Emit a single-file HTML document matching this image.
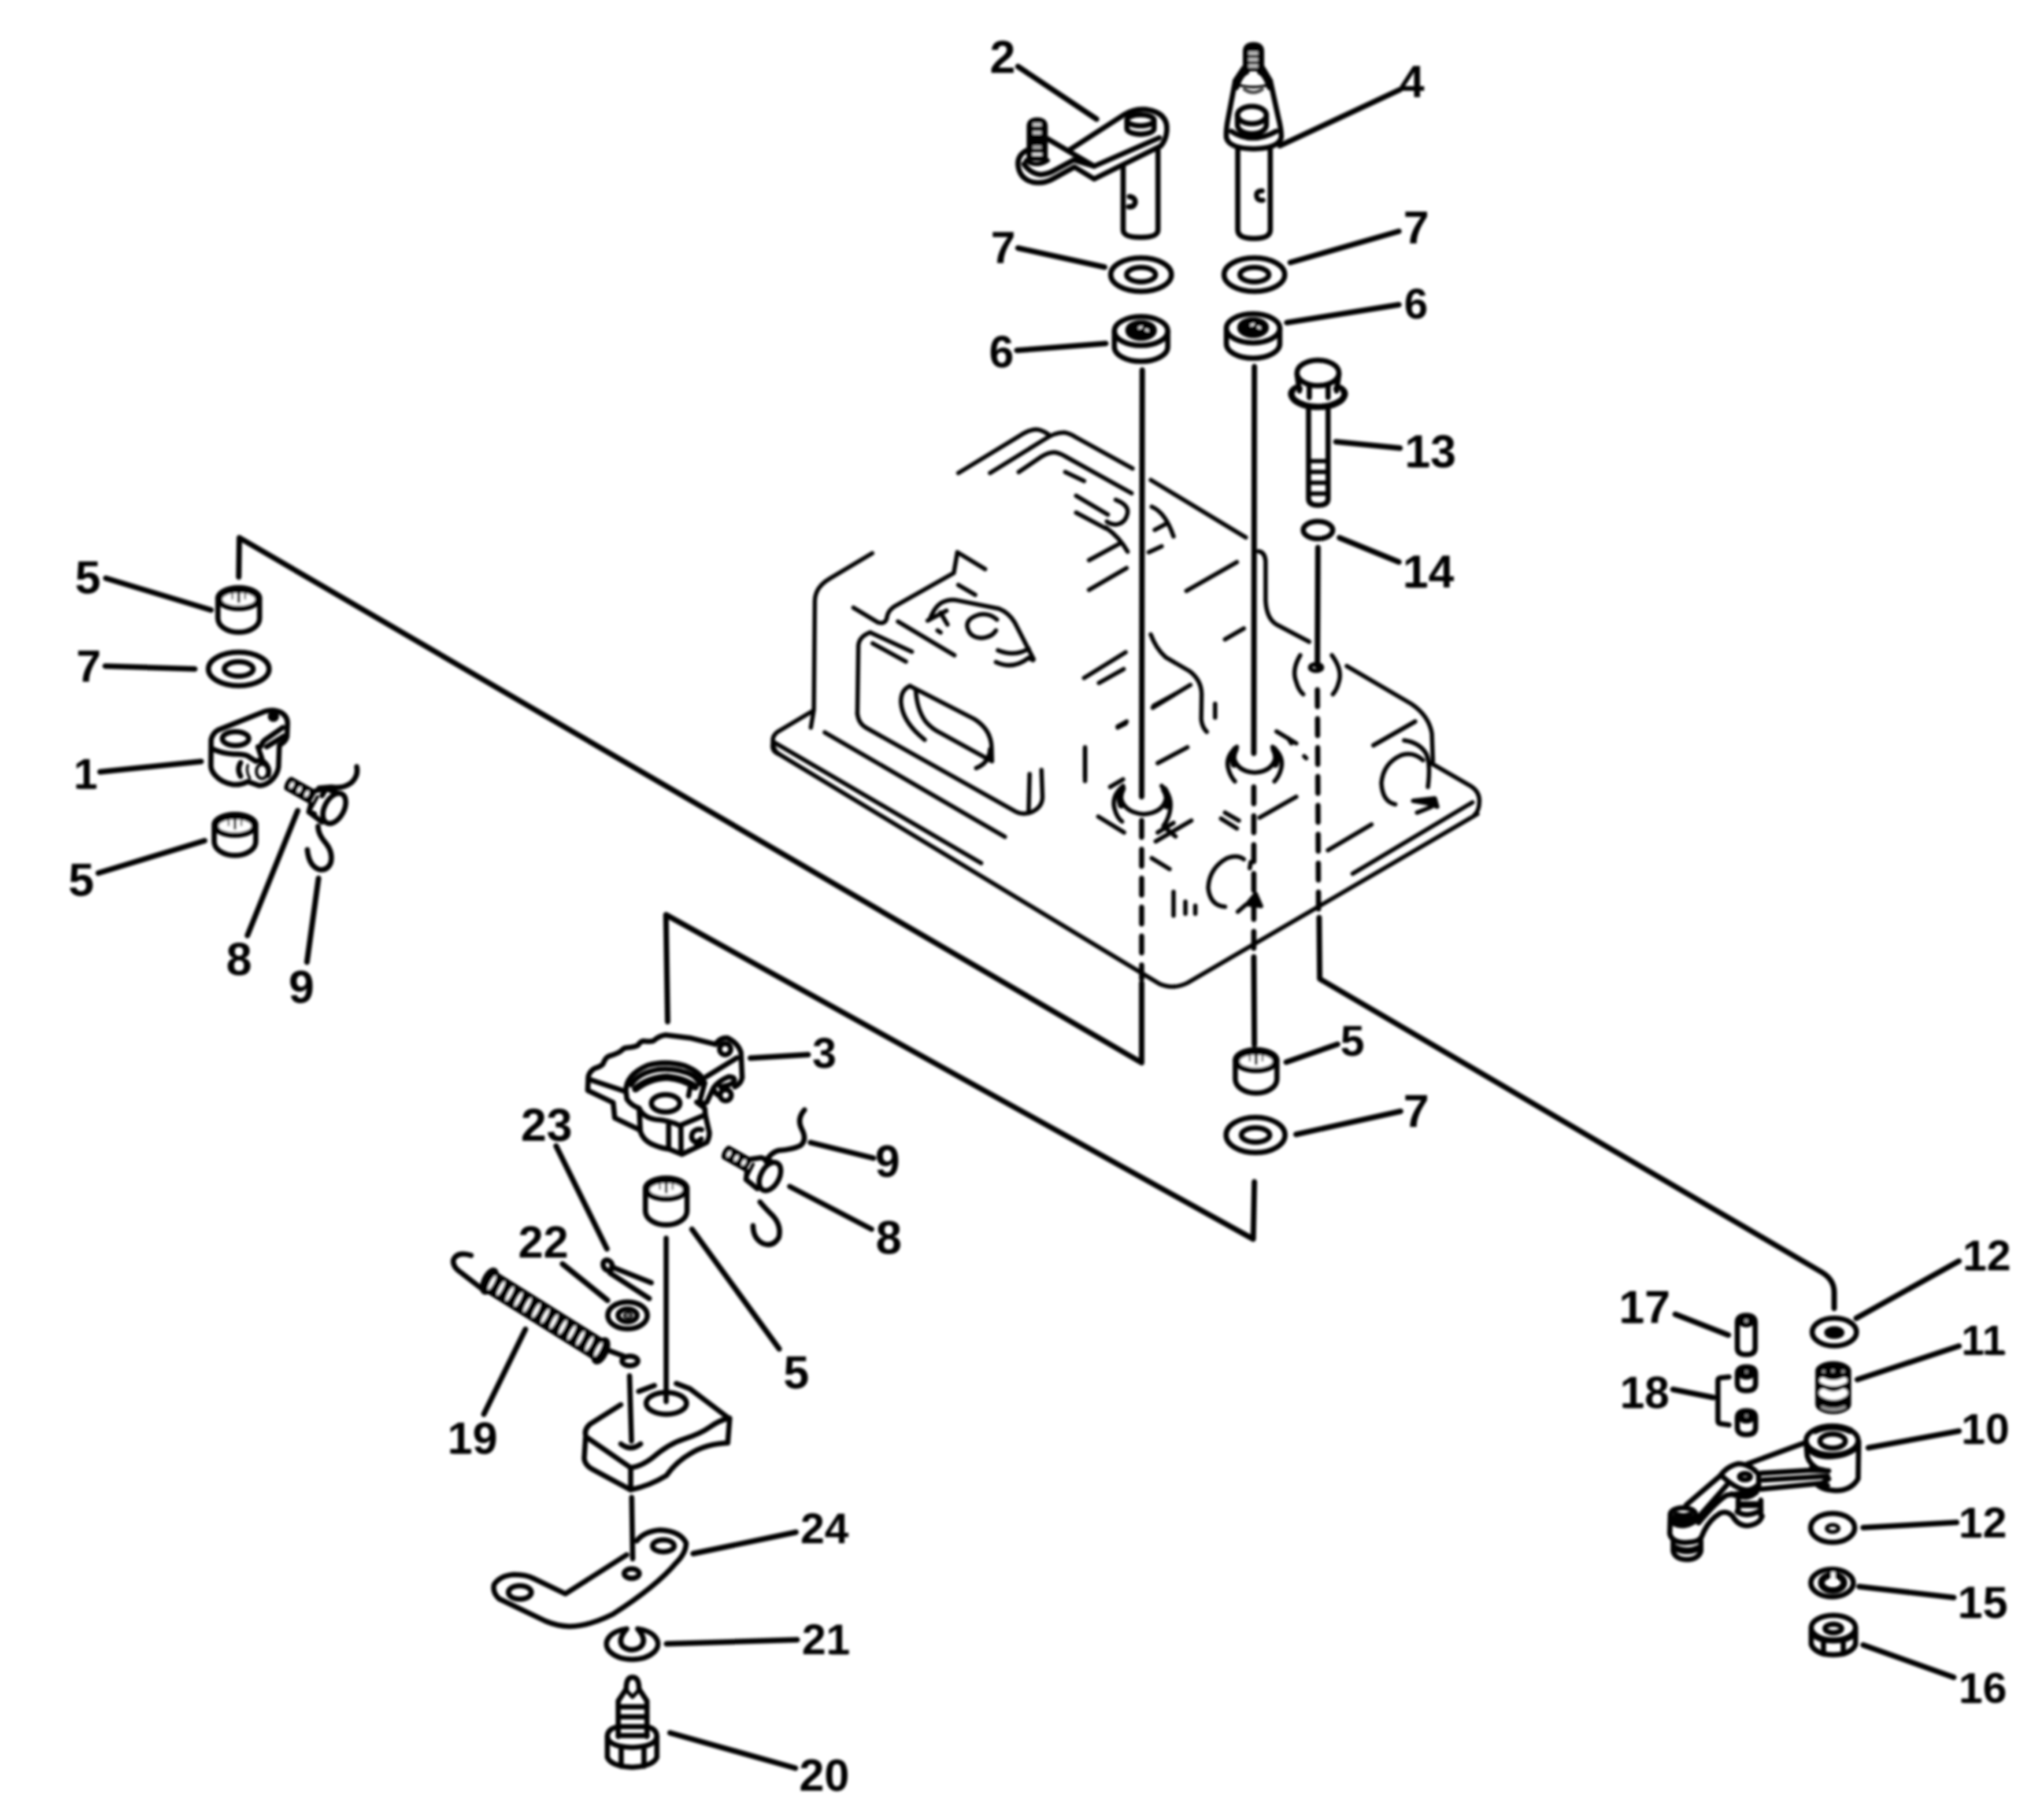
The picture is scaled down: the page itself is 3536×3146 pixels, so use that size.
<!DOCTYPE html>
<html><head><meta charset="utf-8"><title>diagram</title>
<style>
html,body{margin:0;padding:0;background:#fff}
body{width:3536px;height:3146px;overflow:hidden}
svg{display:block}
text{font-family:"Liberation Sans",sans-serif;font-weight:bold;fill:#000;stroke:none}
</style></head><body>
<svg width="3536" height="3146" viewBox="0 0 3536 3146">
<defs><filter id="bl" x="-2%" y="-2%" width="104%" height="104%"><feGaussianBlur stdDeviation="1.9"/></filter></defs>
<rect width="3536" height="3146" fill="#fff"/>
<g filter="url(#bl)" fill="none" stroke="#000" stroke-width="9" stroke-linecap="round" stroke-linejoin="round">
<path d="M413 998L414 930L1975 1838L1975 1700" stroke-width="9.5"/>
<path d="M1155 1767L1152 1582L2168 2143L2170 2044" stroke-width="9.5"/>
<path d="M2280 947L2279 1152" stroke-width="9.5"/>
<path d="M2282 1587L2283 1693L3151 2200Q3173 2213 3173 2235L3173 2263" stroke-width="9.5"/>
<path d="M2279 1193L2281 1577" stroke-width="9" stroke-dasharray="29 21"/>
<path d="M1976 640L1975 1378" stroke-width="9.5"/>
<path d="M1975 1419L1975 1693" stroke-width="9" stroke-dasharray="29 21"/>
<path d="M2170 634L2169 1303" stroke-width="9.5"/>
<path d="M2169 1361L2169 1640" stroke-width="9" stroke-dasharray="29 21"/>
<path d="M2169 1655L2170 1807" stroke-width="9.5"/>
<text x="1734.5" y="126.0" font-size="80" text-anchor="middle">2</text>
<text x="2442.5" y="168.0" font-size="78" text-anchor="middle">4</text>
<text x="1735.5" y="455.0" font-size="77" text-anchor="middle">7</text>
<text x="2450.0" y="421.0" font-size="80" text-anchor="middle">7</text>
<text x="1732.5" y="635.0" font-size="77" text-anchor="middle">6</text>
<text x="2449.5" y="551.0" font-size="74" text-anchor="middle">6</text>
<text x="2474.5" y="808.0" font-size="80" text-anchor="middle">13</text>
<path d="M2441.6 805.0H2468.3" stroke-width="7" fill="none"/>
<text x="2471.0" y="1016.0" font-size="80" text-anchor="middle">14</text>
<path d="M2438.1 1013.0H2464.8" stroke-width="7" fill="none"/>
<text x="152.0" y="1026.0" font-size="80" text-anchor="middle">5</text>
<text x="153.5" y="1179.0" font-size="77" text-anchor="middle">7</text>
<text x="148.0" y="1364.0" font-size="75" text-anchor="middle">1</text>
<path d="M138.0 1361.0H163.0" stroke-width="7" fill="none"/>
<text x="140.5" y="1549.0" font-size="80" text-anchor="middle">5</text>
<text x="413.5" y="1686.0" font-size="80" text-anchor="middle">8</text>
<text x="521.5" y="1734.0" font-size="80" text-anchor="middle">9</text>
<text x="1426.0" y="1847.0" font-size="75" text-anchor="middle">3</text>
<text x="1535.5" y="2035.0" font-size="77" text-anchor="middle">9</text>
<text x="1537.5" y="2168.0" font-size="81" text-anchor="middle">8</text>
<text x="2339.5" y="1826.0" font-size="75" text-anchor="middle">5</text>
<text x="2450.0" y="1949.0" font-size="80" text-anchor="middle">7</text>
<text x="945.5" y="1973.0" font-size="80" text-anchor="middle">23</text>
<text x="940.0" y="2175.0" font-size="78" text-anchor="middle">22</text>
<text x="817.5" y="2514.0" font-size="78" text-anchor="middle">19</text>
<path d="M785.4 2511.0H811.4" stroke-width="7" fill="none"/>
<text x="1377.5" y="2401.0" font-size="80" text-anchor="middle">5</text>
<text x="1426.5" y="2669.0" font-size="75" text-anchor="middle">24</text>
<text x="1429.0" y="2861.0" font-size="75" text-anchor="middle">21</text>
<path d="M1439.8 2858.0H1464.9" stroke-width="7" fill="none"/>
<text x="1426.0" y="3097.0" font-size="78" text-anchor="middle">20</text>
<text x="2845.0" y="2288.0" font-size="80" text-anchor="middle">17</text>
<path d="M2812.1 2285.0H2838.8" stroke-width="7" fill="none"/>
<text x="2845.0" y="2435.0" font-size="77" text-anchor="middle">18</text>
<path d="M2813.3 2432.0H2839.0" stroke-width="7" fill="none"/>
<text x="3437.0" y="2197.0" font-size="75" text-anchor="middle">12</text>
<path d="M3406.1 2194.0H3431.2" stroke-width="7" fill="none"/>
<text x="3431.0" y="2343.0" font-size="72" text-anchor="middle">11</text>
<path d="M3401.4 2340.0H3425.4" stroke-width="7" fill="none"/>
<path d="M3441.4 2340.0H3465.4" stroke-width="7" fill="none"/>
<text x="3434.5" y="2497.0" font-size="75" text-anchor="middle">10</text>
<path d="M3403.6 2494.0H3428.7" stroke-width="7" fill="none"/>
<text x="3430.0" y="2659.0" font-size="75" text-anchor="middle">12</text>
<path d="M3399.1 2656.0H3424.2" stroke-width="7" fill="none"/>
<text x="3430.0" y="2798.0" font-size="78" text-anchor="middle">15</text>
<path d="M3397.9 2795.0H3423.9" stroke-width="7" fill="none"/>
<text x="3430.0" y="2945.0" font-size="75" text-anchor="middle">16</text>
<path d="M3399.1 2942.0H3424.2" stroke-width="7" fill="none"/>
<path d="M1761 115L1897 206" stroke-width="9.5"/>
<path d="M2422 155L2214 252" stroke-width="9.5"/>
<path d="M1761 429L1911 462" stroke-width="9.5"/>
<path d="M2232 454L2420 400" stroke-width="9.5"/>
<path d="M1759 606L1913 594" stroke-width="9.5"/>
<path d="M2226 558L2420 527" stroke-width="9.5"/>
<path d="M2311 764L2422 775" stroke-width="9.5"/>
<path d="M2317 930L2420 972" stroke-width="9.5"/>
<path d="M183 1000L365 1055" stroke-width="9.5"/>
<path d="M182 1152L337 1157" stroke-width="9.5"/>
<path d="M173 1335L348 1317" stroke-width="9.5"/>
<path d="M170 1510L354 1454" stroke-width="9.5"/>
<path d="M515 1402L428 1618" stroke-width="9.5"/>
<path d="M551 1519L531 1664" stroke-width="9.5"/>
<path d="M1298 1830L1398 1824" stroke-width="9.5"/>
<path d="M1402 1976L1511 2003" stroke-width="9.5"/>
<path d="M2225 1837L2314 1806" stroke-width="9.5"/>
<path d="M2242 1962L2423 1922" stroke-width="9.5"/>
<path d="M962 1982L1050 2160" stroke-width="9.5"/>
<path d="M973 2186L1051 2249" stroke-width="9.5"/>
<path d="M909 2299L837 2446" stroke-width="9.5"/>
<path d="M1197 2126L1348 2333" stroke-width="9.5"/>
<path d="M1199 2687L1377 2650" stroke-width="9.5"/>
<path d="M1153 2843L1379 2836" stroke-width="9.5"/>
<path d="M1159 2997L1376 3058" stroke-width="9.5"/>
<path d="M2898 2273L2990 2309" stroke-width="9.5"/>
<path d="M2894 2403L2964 2417" stroke-width="9.5"/>
<path d="M3211 2280L3389 2181" stroke-width="9.5"/>
<path d="M3213 2386L3389 2328" stroke-width="9.5"/>
<path d="M3232 2504L3389 2475" stroke-width="9.5"/>
<path d="M3223 2642L3385 2633" stroke-width="9.5"/>
<path d="M3216 2744L3380 2763" stroke-width="9.5"/>
<path d="M3223 2845L3380 2901" stroke-width="9.5"/>
<ellipse cx="1974" cy="475" rx="52.5" ry="29" /><ellipse cx="1974" cy="475" rx="25" ry="12.5" />
<ellipse cx="2170" cy="475" rx="52.5" ry="29" /><ellipse cx="2170" cy="475" rx="25" ry="12.5" />
<ellipse cx="413" cy="1157" rx="52.5" ry="29" /><ellipse cx="413" cy="1157" rx="25" ry="12.5" />
<ellipse cx="2172" cy="1963" rx="51" ry="30.5" /><ellipse cx="2172" cy="1963" rx="24.5" ry="12.5" />
<path d="M377 1034.5V1069.5A36 24 0 0 0 449 1069.5V1034.5" />
<ellipse cx="413" cy="1034.5" rx="36" ry="18" fill="#000"/>
<ellipse cx="413" cy="1036.5" rx="28" ry="11" fill="#fff" stroke="none"/>
<path d="M413 1026.5V1040.5" stroke-width="5"/>
<path d="M402 1027.5V1035.5M424 1027.5V1035.5" stroke-width="3.5" stroke-opacity="0.6"/>
<path d="M370.5 1426.5V1455.5A36 24 0 0 0 442.5 1455.5V1426.5" />
<ellipse cx="406.5" cy="1426.5" rx="36" ry="18" fill="#000"/>
<ellipse cx="406.5" cy="1428.5" rx="28" ry="11" fill="#fff" stroke="none"/>
<path d="M406.5 1418.5V1432.5" stroke-width="5"/>
<path d="M395.5 1419.5V1427.5M417.5 1419.5V1427.5" stroke-width="3.5" stroke-opacity="0.6"/>
<path d="M2137 1833.5V1866.5A36 24 0 0 0 2209 1866.5V1833.5" />
<ellipse cx="2173" cy="1833.5" rx="36" ry="18" fill="#000"/>
<ellipse cx="2173" cy="1835.5" rx="28" ry="11" fill="#fff" stroke="none"/>
<path d="M2173 1825.5V1839.5" stroke-width="5"/>
<path d="M2162 1826.5V1834.5M2184 1826.5V1834.5" stroke-width="3.5" stroke-opacity="0.6"/>
<path d="M1116.5 2055.5V2094.5A36 24 0 0 0 1188.5 2094.5V2055.5" />
<ellipse cx="1152.5" cy="2055.5" rx="36" ry="18" fill="#000"/>
<ellipse cx="1152.5" cy="2057.5" rx="28" ry="11" fill="#fff" stroke="none"/>
<path d="M1152.5 2047.5V2061.5" stroke-width="5"/>
<path d="M1141.5 2048.5V2056.5M1163.5 2048.5V2056.5" stroke-width="3.5" stroke-opacity="0.6"/>
<g transform="translate(1700 40) scale(0.25000)" stroke-width="36.00"><path d="M322 935V715Q322 670 377 670Q432 670 432 715V935Z" fill="#000"/><path d="M348 702H406M348 758H406" stroke="#c8c8c8" stroke-width="24" stroke-linecap="butt"/><path d="M348 858H406" stroke="#aaa" stroke-width="22" stroke-linecap="butt"/><path d="M344 908H410" stroke="#eee" stroke-width="18" stroke-linecap="butt"/><path d="M305 880Q238 915 245 985Q255 1075 345 1100Q420 1115 490 1075L635 995L771 1078L1232 850" /><path d="M285 975Q330 1040 400 1048Q450 1045 490 1022L629 947L771 990L1222 793" /><path d="M300 950Q370 1000 450 950" stroke-width="30"/><path d="M448 800L771 990" /><path d="M599 878L979 633" /><path d="M979 633Q1050 590 1130 597Q1285 620 1274 745Q1268 810 1232 850" /><ellipse cx="1092" cy="672" rx="94" ry="38" /><path d="M998 672V730A94 38 0 0 0 1186 730V672" /><path d="M1005 748Q1092 805 1182 748" stroke-width="20"/><path d="M972 995V1430Q972 1482 1093 1482Q1213 1482 1213 1430V860" /><path d="M1015 1200Q1060 1205 1055 1245Q1045 1275 1010 1270" /></g>
<g transform="translate(2000 40) scale(0.25000)" stroke-width="36.00"><path d="M618 315V195Q618 149 674 149Q730 149 730 195V315Z" fill="#000"/><path d="M640 208H704M640 252H704M640 296H704" stroke="#b8b8b8" stroke-width="24" stroke-linecap="butt"/><path d="M606 311L548 398L556 446Q585 355 628 338Z" fill="#000"/><path d="M738 311L790 398L784 446Q755 355 716 338Z" fill="#000"/><path d="M560 425Q600 440 672 442Q745 440 780 425" stroke-width="18"/><path d="M612 458Q672 500 734 458" stroke="#444" stroke-width="24"/><path d="M548 398L500 650Q482 740 486 790M790 398L845 650Q868 740 866 790" /><path d="M486 790Q500 866 675 870Q850 866 866 790" /><ellipse cx="663" cy="636" rx="100" ry="60" /><path d="M563 636V705A100 60 0 0 0 763 705V636" /><path d="M575 728Q663 800 752 728" stroke-width="20"/><path d="M520 748Q663 842 832 748" /><path d="M565 872V1430Q565 1490 677 1490Q790 1490 790 1430V872" /><path d="M735 1160Q690 1160 695 1195Q700 1230 740 1225" stroke-width="34"/></g>
<g transform="translate(1700 380) scale(0.39139)" stroke-width="23.00"><ellipse cx="700" cy="492" rx="118" ry="64" /><path d="M582 492V562A118 64 0 0 0 818 562V492" /><ellipse cx="700" cy="489" rx="60" ry="36" stroke-width="20" fill="#000"/><path d="M692 478l10 -4M722 486l8 4" stroke="#fff" stroke-width="9"/><ellipse cx="1195" cy="480" rx="118" ry="64" /><path d="M1077 480V548A118 64 0 0 0 1313 548V480" /><ellipse cx="1195" cy="477" rx="60" ry="36" stroke-width="20" fill="#000"/><path d="M1187 466l10 -4M1217 474l8 4" stroke="#fff" stroke-width="9"/></g>
<g transform="translate(2100 600) scale(0.25000)" stroke-width="36.00"><ellipse cx="720" cy="180" rx="145" ry="88" /><path d="M575 190L592 305M865 190L848 305M660 262V350M790 262V350" /><path d="M545 300Q520 330 560 370Q620 415 720 415Q820 415 880 370Q920 330 895 300" stroke-width="44"/><path d="M545 300Q560 268 596 288M895 300Q880 268 844 288" /><path d="M655 420V1050Q655 1095 722 1095Q790 1095 790 1050V420" /><path d="M655 790H790M655 865H790M655 940H790M655 1015H790" stroke-width="30"/><ellipse cx="720" cy="1267" rx="102" ry="60" /></g>
<g transform="translate(1300 700) scale(0.34247)" stroke-width="21.90"><path d="M1045 345L1350 160Q1400 125 1440 125Q1470 128 1500 150" /><path d="M1205 345L1480 175Q1530 140 1580 140Q1610 145 1640 165L1925 322" /><path d="M1350 340L1465 262Q1500 240 1530 240Q1555 243 1580 258L1920 447" /><path d="M1585 340L1680 385" /><path d="M1640 460L1800 555M1640 545L1790 625" /><path d="M1840 480Q1905 505 1900 545Q1890 600 1840 605Q1815 605 1795 590" /><path d="M1790 620Q1860 670 1900 742" /><path d="M1705 785L1862 700" /><path d="M1705 935L1895 825" /><path d="M1680 1380L1890 1250M1755 1405L1880 1335" /><path d="M1850 1630L1890 1610" /><path d="M1685 1740L1685 1880" /><path d="M610 750L395 878Q322 920 320 990L315 1540L300 1630" /><path d="M312 1545L132 1652Q105 1672 108 1700Q108 1745 140 1765" /><path d="M600 1150Q545 1170 540 1215L535 1560" /><path d="M600 1150L810 1247M612 1205L780 1297" /><path d="M515 1025L640 1100Q680 1110 685 1070Q690 1040 720 1020L1022 850L1040 745L1180 830" /><path d="M1045 910L1130 960" /><path d="M740 1095L1025 1265" /><path d="M900 1085Q925 1020 960 1000Q1000 980 1040 988L1250 1030Q1300 1050 1330 1100L1425 1285" /><path d="M890 1090L985 1040M955 1050L990 1110M940 1140L955 1150" /><path d="M1240 1085Q1200 1050 1150 1060Q1085 1080 1090 1120Q1100 1175 1160 1178Q1215 1175 1235 1140" /><path d="M1245 1240Q1330 1275 1400 1232" /><path d="M1235 1300Q1320 1340 1400 1278L1422 1290" /><path d="M800 1420L1125 1587Q1210 1640 1213 1730L1215 1800" /><path d="M800 1420Q755 1440 755 1500Q760 1600 875 1692" /><path d="M830 1440Q835 1540 880 1600Q910 1635 950 1655L1205 1795" /></g>
<g transform="translate(1300 1200) scale(0.34247)" stroke-width="21.90"><path d="M115 245L1160 855" /><path d="M370 195L1280 722" /><path d="M535 100Q540 150 580 172L1335 595Q1375 615 1420 595Q1470 570 1470 520L1465 385" /><path d="M1405 405L1400 595" /><path d="M1205 280Q1200 350 1135 375" /><path d="M1685 270L1685 440" /><path d="M1850 165L1895 140" /><path d="M108 250Q100 290 140 305" /></g>
<g transform="translate(1900 700) scale(0.34247)" stroke-width="21.90"><path d="M265 380L745 670" /><path d="M270 515Q340 545 380 665M285 632L345 600" /><path d="M255 745L320 715" /><path d="M445 940L700 795" /><path d="M640 1185L735 1130" /><path d="M265 1160Q290 1230 340 1275Q400 1310 460 1345Q520 1390 522 1460L520 1590Q525 1630 548 1652" /><path d="M275 1530L465 1415" /><path d="M590 1510L590 1580" /><path d="M810 740Q842 745 845 790L845 990Q850 1080 900 1110L1065 1197" /><ellipse cx="1100" cy="1327" rx="30" ry="17" /><path d="M1020 1265Q975 1340 1000 1400Q1010 1440 1035 1462" /><path d="M1180 1265Q1235 1340 1215 1400Q1205 1440 1185 1462" /><path d="M1255 1320L1580 1510Q1670 1570 1685 1660L1690 1800" /><path d="M1390 1720L1600 1600" /></g>
<g transform="translate(1900 1200) scale(0.34247)" stroke-width="21.90"><path d="M110 505Q120 600 230 608Q335 600 345 515" /><path d="M125 465Q60 520 85 590Q95 625 120 645" /><path d="M320 465Q380 520 360 600Q350 640 330 665" /><path d="M122 478Q100 520 116 562M333 482Q358 522 345 566" stroke-width="34"/><path d="M60 470L125 432M290 745L470 640M300 700L380 652M330 670L390 720" /><path d="M0 620L130 700" /><path d="M270 830L360 885" /><path d="M680 300Q690 392 790 398Q890 392 900 300" /><path d="M700 268Q635 320 660 390Q670 420 690 442" /><path d="M880 268Q945 320 920 390Q910 420 890 442" /><path d="M692 280Q672 318 686 356M888 280Q908 318 894 356" stroke-width="34"/><path d="M620 630L700 680M640 600L710 640" /><path d="M815 625L1000 520" /><path d="M300 350L450 270M280 60L390 0" /><path d="M900 190L1000 250M960 225L975 250" /><path d="M1040 315L1050 325" /><path d="M1680 350L1885 468Q1925 495 1925 540Q1925 590 1900 612" /><path d="M1890 548L1285 908" /><path d="M1915 607L450 1460Q380 1495 310 1465L-1612 305" /><path d="M1380 660L1160 790" /><path d="M1390 260L1600 140" /><path d="M1640 335Q1590 290 1530 310Q1440 350 1430 450Q1435 545 1500 558" /><path d="M1545 235Q1620 245 1655 300Q1680 350 1665 470" /><path d="M1590 540L1700 528L1712 570L1660 552Z" fill="#000"/><path d="M1610 600L1680 572" /><path d="M735 835Q700 810 650 830Q560 880 555 980Q565 1070 640 1075" /><path d="M380 1000L380 1120M440 1050L440 1110M490 1070L490 1110" /><path d="M795 1010L822 1072L752 1062Z" fill="#000"/><path d="M745 1065L705 1100" /><path d="M770 850L765 880" /></g>
<g transform="translate(330 1200) scale(0.17612)" stroke-width="51.10"><path d="M200 450Q215 385 270 355L720 175Q810 145 890 185Q955 225 950 300L945 420Q935 470 870 505L862 720Q850 800 780 860Q720 905 670 900L560 862Q480 900 410 890Q300 870 240 800Q195 750 198 700Z" /><path d="M212 540Q300 585 420 592Q520 590 560 610Q600 640 640 662" /><ellipse cx="440" cy="440" rx="130" ry="68" /><path d="M690 515Q700 470 740 445L905 330" /><path d="M745 520L915 415" /><path d="M660 520L700 640" /><ellipse cx="812" cy="222" rx="30" ry="28" fill="#000"/><path d="M640 662Q700 640 740 690Q780 740 760 800" /><ellipse cx="700" cy="762" rx="55" ry="70" stroke-width="30"/><path d="M490 675Q450 740 490 810" /><path d="M560 700Q540 760 580 830" stroke-width="25"/><path d="M960 880L1205 1018" stroke-width="148" stroke-linecap="butt"/><ellipse cx="960" cy="880" rx="30" ry="72" fill="#000" stroke="none" transform="rotate(28 960 880)"/><ellipse cx="992" cy="898" rx="16" ry="33" fill="#fff" stroke="none" transform="rotate(28 992 898)"/><ellipse cx="1066" cy="940" rx="16" ry="33" fill="#fff" stroke="none" transform="rotate(28 1066 940)"/><ellipse cx="1140" cy="982" rx="16" ry="33" fill="#fff" stroke="none" transform="rotate(28 1140 982)"/><path d="M1230 950L1330 930L1440 975M1180 1085L1160 1160L1290 1260" /><path d="M1245 1010L1185 1120" stroke-width="32"/><ellipse cx="1410" cy="1125" rx="95" ry="160" transform="rotate(28 1410 1125)"/><path d="M1330 930L1290 1000M1160 1160L1215 1180" /><path d="M1630 715Q1650 800 1580 870Q1500 935 1380 915L1260 925" /><path d="M1250 1300Q1250 1380 1330 1470Q1400 1560 1375 1660Q1340 1740 1260 1725Q1160 1690 1145 1530" /></g>
<g transform="translate(1000 1760) scale(0.17612)" stroke-width="51.10"><path d="M100 600Q95 545 160 500Q225 480 245 455Q270 390 300 380Q400 350 430 320Q450 295 480 295Q560 290 590 270Q610 235 640 230Q720 240 745 225Q790 180 860 170L1100 200L1350 262" /><path d="M1350 262Q1400 190 1470 200Q1570 250 1600 340L1612 590Q1600 650 1540 680" /><ellipse cx="1445" cy="310" rx="55" ry="55" stroke-width="50"/><path d="M100 600L95 715L345 835L360 985L600 1100" /><path d="M105 605L465 725" /><path d="M470 720Q470 560 680 470Q850 420 1040 470Q1220 540 1240 640" /><path d="M520 660Q600 540 780 510Q980 490 1130 570Q1180 610 1195 650" /><path d="M565 700Q700 590 880 585Q1040 600 1150 680" stroke-width="70"/><path d="M1100 690L1085 770" stroke-width="50"/><path d="M470 720L480 800Q520 860 600 890Q640 980 760 1000Q900 1010 1000 1060L1250 955L1245 890L1165 830" /><ellipse cx="860" cy="842" rx="140" ry="85" /><path d="M600 890L612 1120Q640 1200 720 1240Q820 1285 890 1290L1020 1342L1265 1225Q1290 1180 1290 1130L1250 955" /><path d="M890 1050L890 1290M1010 1062L1012 1335" /><path d="M1215 1100Q1160 1085 1125 1130Q1100 1185 1140 1215Q1180 1230 1210 1190" stroke-width="50"/><path d="M1160 1230L1170 1260" /><path d="M1260 580L1560 395" /><path d="M1245 640L1195 820Q1230 860 1265 830L1330 690Q1380 620 1480 580Q1540 580 1535 620Q1520 660 1400 680" /><ellipse cx="1450" cy="762" rx="55" ry="55" stroke-width="50"/><path d="M1340 720Q1360 760 1395 770" /><path d="M1452 1322L1678 1450" stroke-width="148" stroke-linecap="butt"/><ellipse cx="1452" cy="1322" rx="30" ry="72" fill="#000" stroke="none" transform="rotate(28 1452 1322)"/><ellipse cx="1482" cy="1339" rx="16" ry="33" fill="#fff" stroke="none" transform="rotate(28 1482 1339)"/><ellipse cx="1555" cy="1380" rx="16" ry="33" fill="#fff" stroke="none" transform="rotate(28 1555 1380)"/><ellipse cx="1628" cy="1422" rx="16" ry="33" fill="#fff" stroke="none" transform="rotate(28 1628 1422)"/><path d="M1700 1390L1800 1375L1900 1415M1660 1510L1650 1590L1760 1680" /><path d="M1720 1440L1670 1540" stroke-width="32"/><ellipse cx="1885" cy="1560" rx="90" ry="150" transform="rotate(28 1885 1560)"/></g>
<g transform="translate(950 1500) scale(0.34247)" stroke-width="26.28"><path d="M1290 1225Q1250 1270 1275 1320Q1305 1375 1270 1405Q1230 1425 1160 1430Q1120 1440 1095 1485" /><path d="M1065 1690Q1090 1720 1130 1760Q1175 1810 1160 1870Q1130 1920 1080 1900Q1030 1875 1030 1810" /></g>
<path d="M1366 2052L1508 2126" />
<g transform="translate(2800 2150) scale(0.34247)" stroke-width="26.28"><ellipse cx="1090" cy="449" rx="112" ry="70" /><ellipse cx="1090" cy="452" rx="38" ry="19" fill="#000"/><path d="M994 645A90 48 0 0 1 1175 645V815A90 48 0 0 1 994 815Z" fill="#000" stroke="none"/><path d="M1030 693Q1084 722 1140 693" stroke="#fff" stroke-width="30"/><path d="M1034 756Q1084 786 1136 756" stroke="#fff" stroke-width="42"/><path d="M1030 828Q1084 852 1140 828" stroke="#999" stroke-width="15"/><circle cx="1036" cy="648" r="8" fill="#999" stroke="none"/><circle cx="1083" cy="645" r="8" fill="#999" stroke="none"/><circle cx="1134" cy="648" r="8" fill="#999" stroke="none"/><path d="M600 400Q600 365 645 365Q690 365 690 400V530Q690 563 645 563Q600 563 600 530Z" /><ellipse cx="645" cy="398" rx="40" ry="28" fill="#000" stroke="none"/><circle cx="645" cy="392" r="9" fill="#aaa" stroke="none"/><path d="M600 660Q600 625 645 625Q692 625 692 660V710Q692 745 645 745Q600 745 600 710Z" /><ellipse cx="646" cy="660" rx="42" ry="30" fill="#000" stroke="none"/><circle cx="646" cy="650" r="8" fill="#888" stroke="none"/><path d="M600 882Q600 847 645 847Q692 847 692 882V932Q692 967 645 967Q600 967 600 932Z" /><ellipse cx="646" cy="882" rx="42" ry="30" fill="#000" stroke="none"/><circle cx="646" cy="872" r="8" fill="#888" stroke="none"/><path d="M558 676L516 680Q502 682 502 696L502 896Q502 910 516 912L558 918" /></g>
<g transform="translate(2870 2440) scale(0.19569)" stroke-width="45.99"><ellipse cx="1530" cy="262" rx="230" ry="128" /><ellipse cx="1535" cy="268" rx="112" ry="62" /><path d="M1380 175Q1530 110 1690 175" stroke-width="60"/><path d="M1300 270L1310 400Q1330 470 1400 510M1765 270L1760 600Q1700 705 1560 705Q1450 700 1400 655" /><path d="M1310 330Q1400 425 1560 402Q1700 382 1760 312" /><path d="M1290 282L780 470" /><path d="M900 552L1340 525L1500 530M1350 500L1480 530" /><path d="M920 612L1490 578" /><path d="M900 692L1440 640L1500 602" /><path d="M1440 640L1490 660" /><path d="M540 575Q600 490 700 468Q800 470 880 560L882 645Q840 700 770 700Q680 690 560 580" /><ellipse cx="760" cy="582" rx="48" ry="28" stroke-width="46"/><path d="M882 645Q880 740 780 762Q700 765 640 735" /><path d="M700 790V900M900 790V920" stroke-width="46"/><path d="M720 830H880" stroke-width="60"/><path d="M650 930Q700 1020 790 1015Q890 1000 912 930" /><path d="M690 890Q780 950 900 880" /><path d="M535 580L240 832" /><path d="M600 655L330 962" /><path d="M860 722Q700 730 600 745Q520 790 350 990" /><path d="M650 930Q600 880 540 905Q450 960 400 1060L360 1150" /><ellipse cx="212" cy="915" rx="112" ry="58" /><path d="M150 915Q215 945 275 915" stroke-width="50"/><path d="M100 915L95 1085Q110 1160 230 1165Q340 1160 362 1130" /><path d="M118 990Q220 1050 335 965" /><path d="M125 1150V1240Q140 1310 245 1315Q350 1310 370 1240V1150" /><path d="M150 1215Q245 1260 345 1215" stroke-width="60"/><ellipse cx="1535" cy="1035" rx="195" ry="128" /><ellipse cx="1535" cy="1040" rx="52" ry="32" stroke-width="34"/><ellipse cx="1530" cy="1522" rx="188" ry="122" /><ellipse cx="1535" cy="1520" rx="100" ry="68" stroke-width="58"/><path d="M1540 1425V1525" stroke="#fff" stroke-width="34" stroke-linecap="butt"/></g>
<g transform="translate(2836 2600) scale(0.34247)" stroke-width="26.28"><ellipse cx="980" cy="628" rx="112" ry="62" /><ellipse cx="980" cy="632" rx="42" ry="22" /><path d="M868 628V712Q880 745 930 760Q980 770 1030 760Q1080 745 1092 712V628" /><path d="M930 688V760M1030 688V760" /><path d="M868 655Q895 685 930 690Q980 700 1030 690Q1065 685 1092 655" /></g>
<g transform="translate(750 1900) scale(0.34247)" stroke-width="26.28"><ellipse cx="880" cy="842" rx="22" ry="28" transform="rotate(-30 880 842)"/><path d="M900 850L1100 930M890 880L1090 1010" /><ellipse cx="980" cy="1095" rx="100" ry="68" /><ellipse cx="980" cy="1095" rx="48" ry="32" /><ellipse cx="982" cy="1095" rx="18" ry="11" stroke-width="14" fill="#bbb"/><path d="M190 792Q120 770 100 815Q95 850 140 880L250 965" /><path d="M865 1265L960 1300" /><ellipse cx="992" cy="1325" rx="40" ry="24" /><path d="M282 922L845 1274" stroke-width="118" stroke-linecap="butt"/><ellipse cx="282" cy="922" rx="26" ry="60" fill="#000" transform="rotate(25 282 922)"/><ellipse cx="845" cy="1274" rx="26" ry="60" fill="#000" transform="rotate(25 845 1274)"/><ellipse cx="295" cy="930" rx="9" ry="40" fill="#fff" stroke="none" transform="rotate(28 295 930)"/><ellipse cx="340" cy="958" rx="9" ry="40" fill="#fff" stroke="none" transform="rotate(28 340 958)"/><ellipse cx="385" cy="986" rx="9" ry="40" fill="#fff" stroke="none" transform="rotate(28 385 986)"/><ellipse cx="429" cy="1014" rx="9" ry="40" fill="#fff" stroke="none" transform="rotate(28 429 1014)"/><ellipse cx="474" cy="1042" rx="9" ry="40" fill="#fff" stroke="none" transform="rotate(28 474 1042)"/><ellipse cx="519" cy="1070" rx="9" ry="40" fill="#fff" stroke="none" transform="rotate(28 519 1070)"/><ellipse cx="564" cy="1098" rx="9" ry="40" fill="#fff" stroke="none" transform="rotate(28 564 1098)"/><ellipse cx="608" cy="1126" rx="9" ry="40" fill="#fff" stroke="none" transform="rotate(28 608 1126)"/><ellipse cx="653" cy="1154" rx="9" ry="40" fill="#fff" stroke="none" transform="rotate(28 653 1154)"/><ellipse cx="698" cy="1182" rx="9" ry="40" fill="#fff" stroke="none" transform="rotate(28 698 1182)"/><ellipse cx="742" cy="1210" rx="9" ry="40" fill="#fff" stroke="none" transform="rotate(28 742 1210)"/><ellipse cx="787" cy="1238" rx="9" ry="40" fill="#fff" stroke="none" transform="rotate(28 787 1238)"/><ellipse cx="832" cy="1266" rx="9" ry="40" fill="#fff" stroke="none" transform="rotate(28 832 1266)"/><path d="M990 1400L1000 1730" /><path d="M1175 705L1175 1530" /></g>
<g transform="translate(800 2350) scale(0.34247)" stroke-width="26.28"><path d="M800 232L645 330Q610 360 625 395L850 550Q900 545 960 500Q1040 430 1120 405Q1200 380 1250 345Q1300 310 1345 300" /><path d="M1345 300L1150 152L1080 125M970 135L890 165" /><ellipse cx="1030" cy="225" rx="102" ry="55" /><path d="M622 395L615 505Q620 540 660 560L850 662L850 552" /><path d="M850 662Q950 640 1030 590Q1080 520 1150 480Q1230 430 1340 425L1350 300" /><path d="M800 430Q850 470 900 430" /><path d="M855 700L860 1010" /><path d="M880 920Q920 870 1000 865Q1100 870 1130 930Q1130 980 1080 1030Q980 1150 760 1290Q640 1350 540 1352Q480 1350 420 1325L185 1212Q150 1180 160 1140Q190 1095 260 1090Q320 1090 360 1110L520 1187L830 990" /><ellipse cx="1015" cy="945" rx="55" ry="30" /><ellipse cx="855" cy="1085" rx="38" ry="24" /><ellipse cx="290" cy="1180" rx="58" ry="34" /><path d="M830 1364A130 78 0 1 0 885 1364Q935 1420 900 1455Q855 1485 812 1455Q780 1420 830 1364" /></g>
<g transform="translate(900 2750) scale(0.34247)" stroke-width="26.28"><path d="M535 500Q535 440 567 440Q600 440 600 500" /><path d="M535 500L495 560V740M600 500L640 560V740" /><path d="M495 590H640M495 640H640M495 690H640M495 735H640" stroke-width="26"/><path d="M535 505L567 540L600 505" stroke-width="20"/><path d="M495 690Q440 700 440 740Q445 790 565 795Q685 790 690 740Q690 700 640 690" /><path d="M440 740V845Q460 890 565 895Q670 890 690 845V740" /><path d="M510 790V890M625 790V890" /></g>
</g>
</svg>
</body></html>
